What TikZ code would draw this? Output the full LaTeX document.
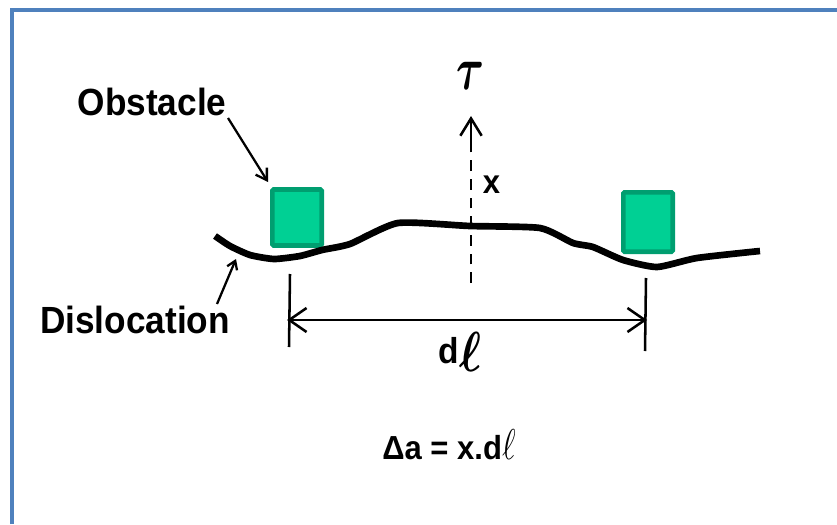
\documentclass[tikz,border=0pt]{standalone}
\usepackage{amsmath}
\usepackage{fontspec}
\setmainfont{Liberation Sans}
\newfontfamily\lblfont[UprightFont=* Bold, FakeStretch=0.93]{Liberation Sans}
\usetikzlibrary{arrows.meta}
\definecolor{frameblue}{RGB}{79,129,189}
\definecolor{obstfill}{RGB}{0,208,148}
\definecolor{obstedge}{RGB}{0,158,112}
\begin{document}
\begin{tikzpicture}[
    x=0.75pt, y=-0.75pt,
    label_style/.style={font=\lblfont\fontsize{28.4}{30}\selectfont, inner sep=0pt},
    obstacle/.style={draw=obstedge, fill=obstfill, line width=3.5pt, rounded corners=1pt, inner sep=0pt, minimum width=37pt, minimum height=42pt},
    disl/.style={line width=5pt, line join=round},
    dim/.style={line width=1.9pt},
    pointer/.style={-{Straight Barb[length=8pt,width=10pt]}, line width=1.7pt}
]
\useasboundingbox (0,0) rectangle (837,524);
% Frame
\draw[color=frameblue, line width=3pt] (12,524) -- (12,10) -- (837,10);

% Obstacles
\node[obstacle] (obs1) at (297,217.5) {};
\node[obstacle, minimum height=44.5pt] (obs2) at (648,222) {};

% Dislocation line
\draw[disl] plot[smooth, tension=0.35] coordinates {(215,236) (230,246) (250,255) (274,259) (300,256) (322,250) (350,244) (398,223) (470,226) (540,228) (573,243) (593,247) (623,260) (657,267) (697,258) (760,251)};

% Labels
\node[label_style] (obstacle_lbl) at (152,102) {Obstacle};
\node[label_style] (disl_lbl) at (135,320) {Dislocation};
\node[inner sep=0pt] (tau) at (470,76) {\scalebox{3.2}[4.6]{$\boldsymbol{\tau}$}};
\node[label_style, font=\lblfont\fontsize{25}{26}\selectfont] (x_lbl) at (491.5,185) {x};
\node[label_style, font=\lblfont\fontsize{27}{28}\selectfont] (dl_lbl) at (460,352) {d\raisebox{-0.22em}{\scalebox{1.4}[1.7]{$\boldsymbol{\ell}$}}};
\node[label_style, font=\lblfont\fontsize{25}{26}\selectfont] (area) at (449,445) {Δa = x.d\scalebox{1}[1.3]{$\ell$}};

\coordinate (obs_from) at (228,118);
\coordinate (obs_to) at (268,182);
\coordinate (disl_from) at (217,304);
\coordinate (disl_to) at (236,259);
\draw[pointer] (obs_from) -- (obs_to);
\draw[pointer, -{Straight Barb[length=6pt,width=8pt]}] (disl_from) -- (disl_to);

% Shear direction
\coordinate (dash_low) at (471,283);
\coordinate (dash_top) at (471,116);
\draw[line width=1.7pt, dash pattern=on 8pt off 6pt] (dash_low) -- (dash_top);
\draw[line width=1.9pt, -{Straight Barb[length=13pt,width=16pt]}] (471,147) -- (dash_top);

% Width
\coordinate (left_up) at (290,274);
\coordinate (left_down) at (289,347);
\coordinate (right_up) at (646,278);
\coordinate (right_down) at (645,351);
\coordinate (dim_l) at (287,320);
\coordinate (dim_r) at (647,320);
\draw[dim] (left_up) -- (left_down);
\draw[dim] (right_up) -- (right_down);
\draw[dim, {Straight Barb[length=13pt,width=18pt]}-{Straight Barb[length=13pt,width=18pt]}] (dim_l) -- (dim_r);
\end{tikzpicture}
\end{document}
